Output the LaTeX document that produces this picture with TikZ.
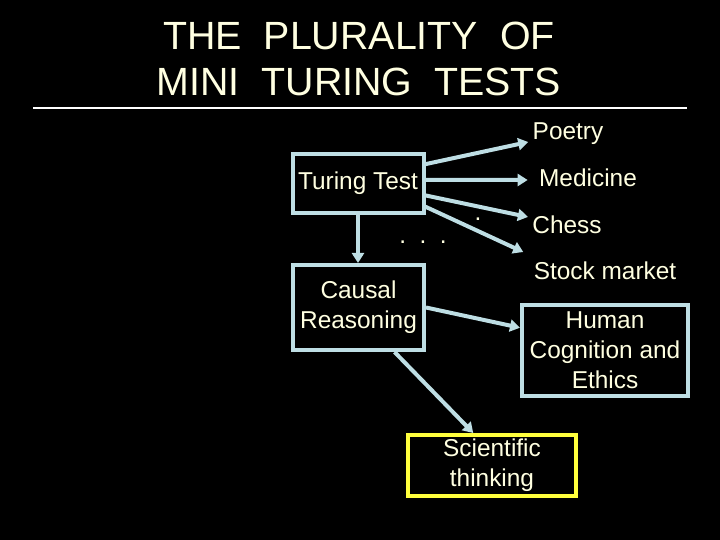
\documentclass[tikz,border=0pt]{standalone}
\usepackage{fontspec}
\setmainfont{Liberation Sans}
\usetikzlibrary{arrows.meta, calc}
\definecolor{TTCream}{RGB}{255,255,225}
\definecolor{TTBlue}{RGB}{190,222,228}
\definecolor{TTYellow}{RGB}{255,255,60}

\begin{document}
\begin{tikzpicture}[x=1bp, y=-1bp,
          bx/.style={rectangle, draw=TTBlue, line width=4bp, fill=black,
                     inner sep=2bp, align=center, text=TTCream,
                     font=\fontsize{24.5}{30}\selectfont},
          lbl/.style={text=TTCream, font=\fontsize{24.5}{30}\selectfont},
          arr/.style={-{Triangle[length=10bp, width=12bp]}, draw=TTBlue,
                      line width=4bp}
        ]
        \fill[black] (0,0) rectangle (720,540);
        \useasboundingbox (0,0) rectangle (720,540);

        % TITLE
        \node[text=TTCream, align=center, font=\fontsize{39.5}{46}\selectfont]
              (title) at (359,59) {THE~~PLURALITY~~OF\\MINI~~TURING~~TESTS};
        \draw[white, line width=2bp] (33,108) -- (687,108);

        % BOXES
        \node[bx, minimum width=131bp, minimum height=59bp]
              (tt)  at (358,183.5) {Turing Test};
        \node[bx, minimum width=131bp, minimum height=85bp]
              (cr)  at (358.5,307.5) {Causal\\Reasoning};
        \node[bx, minimum width=166bp, minimum height=91bp]
              (hc)  at (605,350.5) {Human\\Cognition and\\Ethics};
        \node[bx, draw=TTYellow, minimum width=168bp, minimum height=61bp]
              (sci) at (492,465.5) {Scientific\\thinking};

        % MINI TESTS
        \node[lbl] (poem)  at (568,134) {Poetry};
        \node[lbl] (med)   at (588,178) {Medicine};
        \node[lbl] (chess) at (567,225) {Chess};
        \node[lbl] (stock) at (605,271) {Stock market};
        \node[lbl, anchor=base] (dots) at (423,244) {.~~.~~.};
        \node[lbl, anchor=base] (dot)  at (478,221) {.};

        \draw[arr] (tt.16)  -- ($(poem.west)+(-1,8)$);
        \draw[arr] (tt.3)   -- ($(med.west)+(-8,2)$);
        \draw[arr] (tt.-10) -- ($(chess.west)+(-1,-8)$);
        \draw[arr] (tt.-19) -- ($(stock.west)+(-7,-19)$);
        \draw[arr] (tt.south) -- (tt.south |- cr.north);
        \draw[arr] (cr.east) -- (hc.165);
        \draw[arr] (cr.-51) -- (sci.120);
      \end{tikzpicture}
\end{document}
